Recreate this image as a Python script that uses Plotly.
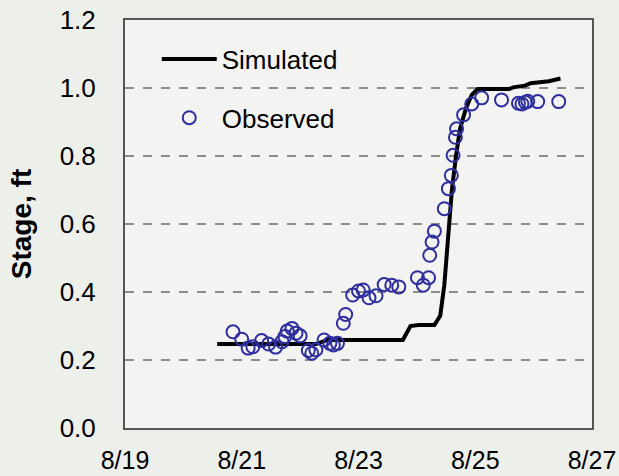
import pandas as pd
import plotly.graph_objects as go

# Simulated stage (fractional day of August, ft)
sim_day = [20.58, 22.27, 22.47, 23.76, 23.89, 24.03, 24.30, 24.40, 24.47, 24.53,
           24.60, 24.67, 24.74, 24.84, 24.94, 25.04, 25.58, 25.65, 25.85, 25.95,
           26.26, 26.46]
sim_stage = [0.247, 0.247, 0.259, 0.259, 0.300, 0.303, 0.303, 0.330, 0.420, 0.567,
             0.700, 0.800, 0.880, 0.940, 0.980, 0.997, 0.997, 1.002, 1.007, 1.014,
             1.020, 1.028]

# Observed stage
obs_day = [20.85, 21.00, 21.11, 21.19, 21.34, 21.46, 21.58, 21.69, 21.74, 21.78,
           21.86, 21.93, 22.00, 22.14, 22.20, 22.27, 22.41, 22.51, 22.57, 22.64,
           22.74, 22.78, 22.90, 23.00, 23.08, 23.18, 23.30, 23.44, 23.57, 23.69,
           24.01, 24.11, 24.20, 24.22, 24.26, 24.30, 24.47, 24.54, 24.59, 24.62,
           24.66, 24.68, 24.80, 24.94, 25.11, 25.45, 25.74, 25.80, 25.86, 25.90,
           26.07, 26.43]
obs_stage = [0.283, 0.261, 0.235, 0.239, 0.257, 0.247, 0.238, 0.254, 0.269, 0.285,
             0.293, 0.279, 0.271, 0.228, 0.220, 0.230, 0.259, 0.249, 0.244, 0.249,
             0.308, 0.334, 0.391, 0.403, 0.406, 0.383, 0.389, 0.422, 0.420, 0.415,
             0.442, 0.420, 0.442, 0.508, 0.547, 0.579, 0.645, 0.704, 0.743, 0.802,
             0.855, 0.880, 0.921, 0.953, 0.971, 0.965, 0.955, 0.953, 0.958, 0.961,
             0.960, 0.960]

x_ticks = ["8/19", "8/21", "8/23", "8/25", "8/27"]
tick_days = [19, 21, 23, 25, 27]

base = pd.Timestamp("2011-08-01")
def to_time(days):
    return [base + pd.Timedelta(days=d - 1) for d in days]

FONT = "Liberation Sans, Arial, sans-serif"

fig = go.Figure()
fig.add_trace(go.Scatter(
    x=to_time(sim_day), y=sim_stage, mode="lines", name="Simulated",
    line=dict(color="black", width=4), legendgroup="a"))
fig.add_trace(go.Scatter(
    x=to_time(obs_day), y=obs_stage, mode="markers", name="Observed",
    marker=dict(symbol="circle-open", size=13, color="#2e2e9e",
                line=dict(width=2, color="#2e2e9e")), legendgroup="b"))

fig.update_layout(
    width=619, height=476,
    margin=dict(l=125, r=27, t=20, b=48),
    paper_bgcolor="#edefeb", plot_bgcolor="#f3f4f1",
    font=dict(family=FONT, size=26, color="black"),
    showlegend=True,
    legend=dict(x=0.068, y=0.962, xanchor="left", yanchor="top",
                bgcolor="rgba(0,0,0,0)", font=dict(size=26),
                tracegroupgap=22, itemwidth=55),
    xaxis=dict(
        type="date", automargin=False,
        range=[to_time([19])[0], to_time([27])[0]],
        tickvals=to_time(tick_days), ticktext=x_ticks,
        tickfont=dict(size=25),
        showgrid=False, zeroline=False,
        showline=True, mirror=True, linecolor="#555555", linewidth=2,
        ticks="", ticklabelstandoff=9),
    yaxis=dict(
        range=[0, 1.2], dtick=0.2, tickformat=".1f", automargin=False,
        showgrid=True, gridcolor="#8c8c8c", gridwidth=1.5, griddash="dash",
        zeroline=False,
        showline=True, mirror=True, linecolor="#555555", linewidth=2,
        ticks="", ticklabelstandoff=22,
        title=dict(text="<b>Stage, ft</b>", font=dict(size=28), standoff=20)),
)

fig.write_html("out.html", config={"displayModeBar": False},
               post_script="document.body.style.margin='0';document.body.style.background='#edefeb';")
